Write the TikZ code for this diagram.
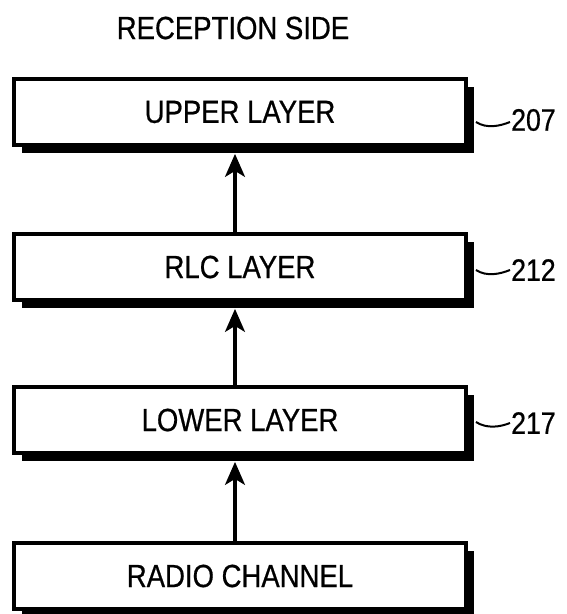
\documentclass[tikz,border=0pt]{standalone}
\usepackage{fontspec}
\setmainfont{Liberation Sans}[FakeStretch=0.86,FakeBold=0.6]
\usetikzlibrary{arrows.meta,shadows}
\begin{document}
\begin{tikzpicture}[x=1pt,y=-1pt,
  layerbox/.style={draw,line width=3.8pt,fill=white,minimum width=452pt,minimum height=66pt,inner sep=0pt,
    font=\fontsize{32}{36}\selectfont,
    drop shadow={shadow xshift=8pt,shadow yshift=-8pt,fill=black,opacity=1}},
  reflabel/.style={anchor=west,inner sep=1pt,font=\fontsize{31}{34}\selectfont},
  leader/.style={line width=2pt},
  arr/.style={line width=3.2pt,-{Stealth[length=23pt,width=20pt,inset=6pt]}}]
\useasboundingbox (0,0) rectangle (567,614);
\node[font=\fontsize{32}{36}\selectfont] (title) at (233,28) {RECEPTION SIDE};
\node[layerbox] (up) at (240,112) {UPPER LAYER};
\node[layerbox] (rlc) at (240,267) {RLC LAYER};
\node[layerbox] (low) at (240,420) {LOWER LAYER};
\node[layerbox] (radio) at (240,576) {RADIO CHANNEL};
\node[reflabel] (l207) at (510,120) {207};
\node[reflabel] (l212) at (510,270) {212};
\node[reflabel] (l217) at (510,423) {217};
\draw[leader] ([xshift=8pt,yshift=-10pt]up.east) .. controls +(11,7) and +(-10,4) .. ([yshift=-2pt]l207.west);
\draw[leader] ([xshift=8pt,yshift=-3pt]rlc.east) .. controls +(11,7) and +(-10,4) .. ([yshift=0pt]l212.west);
\draw[leader] ([xshift=8pt,yshift=-2pt]low.east) .. controls +(11,7) and +(-10,4) .. ([yshift=0pt]l217.west);
\draw[arr] ([xshift=-5pt]rlc.north) -- ([xshift=-5pt,yshift=-7pt]up.south);
\draw[arr] ([xshift=-5pt]low.north) -- ([xshift=-5pt,yshift=-7pt]rlc.south);
\draw[arr] ([xshift=-5pt]radio.north) -- ([xshift=-5pt,yshift=-7pt]low.south);
\end{tikzpicture}
\end{document}
